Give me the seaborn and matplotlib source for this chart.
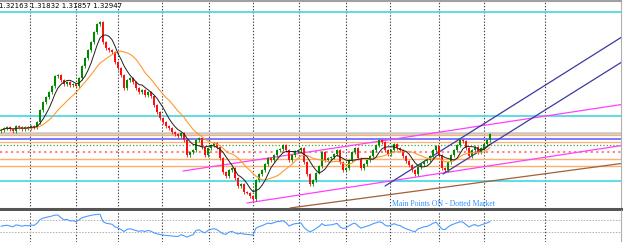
import numpy as np
import pandas as pd
import matplotlib
matplotlib.use("Agg")
import matplotlib.pyplot as plt
import seaborn as sns

# ---------------- data ----------------
closes = [
    1.3040, 1.3044, 1.3046, 1.3042, 1.3038, 1.3048, 1.3046, 1.3042, 1.3046, 1.3044,
    1.3048, 1.3046, 1.3056, 1.3080, 1.3096, 1.3106, 1.3116, 1.3128, 1.3148, 1.3150,
    1.3140, 1.3132, 1.3136, 1.3130, 1.3132, 1.3128, 1.3144, 1.3168, 1.3184, 1.3200,
    1.3216, 1.3236, 1.3252, 1.3256, 1.3216, 1.3204, 1.3200, 1.3196, 1.3176, 1.3164,
    1.3150, 1.3124, 1.3140, 1.3144, 1.3136, 1.3124, 1.3116, 1.3120, 1.3110, 1.3116,
    1.3108, 1.3090, 1.3076, 1.3064, 1.3056, 1.3048, 1.3044, 1.3036, 1.3032, 1.3028,
    1.3034, 1.3020, 1.2990, 1.2996, 1.3000, 1.3020, 1.3024, 1.3006, 1.2990, 1.3004,
    1.3010, 1.3014, 1.3006, 1.2984, 1.2956, 1.2948, 1.2960, 1.2964, 1.2944, 1.2928,
    1.2932, 1.2916, 1.2914, 1.2908, 1.2902, 1.2940, 1.2952, 1.2960, 1.2972, 1.2984,
    1.2980, 1.2990, 1.3000, 1.3002, 1.3010, 1.3000, 1.2980, 1.2990, 1.2998, 1.3000,
    1.3004, 1.2976, 1.2952, 1.2932, 1.2940, 1.2954, 1.2968, 1.2996, 1.2980, 1.2984,
    1.2986, 1.2992, 1.3000, 1.2976, 1.2960, 1.2964, 1.2980, 1.2996, 1.3004, 1.2984,
    1.2964, 1.2972, 1.2980, 1.2988, 1.3000, 1.3010, 1.3020, 1.3016, 1.3000, 1.2992,
    1.3000, 1.3012, 1.3004, 1.3000, 1.2988, 1.2978, 1.2970, 1.2960, 1.2952, 1.2966,
    1.2972, 1.2978, 1.2980, 1.2988, 1.3000, 1.3008, 1.2990, 1.2964, 1.2960, 1.2976,
    1.2990, 1.3000, 1.3010, 1.3020, 1.3018, 1.3004, 1.2988, 1.3000, 1.3006, 1.2996,
    1.3004, 1.3012, 1.3020, 1.3032,
]
first_open = 1.3038
rsi_seed = 0.0005  # neutral average move assumed before the first bar

# horizontal levels (price, colour, width, style)
level_prices = [1.3276, 1.3068, 1.2938, 1.3035, 1.3030, 1.3022, 1.3016, 1.3011, 1.2996, 1.2982, 1.2968]
level_colors = ["#40d8e0", "#40d8e0", "#40d8e0", "#c8c8c8", "#ffb070", "#7070ff",
                "#ffb070", "#40a040", "#ff8080", "#ffb070", "#ffb070"]
level_widths = [1.2, 1.2, 1.2, 1.8, 0.9, 1.3, 0.9, 0.9, 1.5, 1.0, 1.0]
level_styles = ["-", "-", "-", "-", "-", "-", "-", ":", ":", "-", "-"]

# trend lines: (x0, y0, x1, y1) in bar index / price
trend_x0 = [60.67, 82.0, 96.33, 128.0, 147.33]
trend_y0 = [1.2958, 1.2894, 1.2884, 1.2928, 1.2952]
trend_x1 = [208.0, 208.0, 208.0, 208.0, 208.0]
trend_y1 = [1.3092, 1.3010, 1.2974, 1.3230, 1.3180]
trend_colors = ["#ff40ff", "#ff40ff", "#a0603a", "#3a3aa0", "#3a3aa0"]

# day separators (bar positions)
separators = [9.7, 25, 39, 53.7, 69.3, 84, 99.3, 115, 129.7, 146, 161, 181.3]

header = "1.32163 1.31832 1.31857 1.32947"
note = "Main Points ON - Dotted Market"

# ---------------- build ----------------
sns.set_style("white")
plt.rcParams["font.family"] = ["DejaVu Sans"]

c = np.array(closes)
o = np.concatenate([[first_open], c[:-1]])
idx = np.arange(len(c))
df = pd.DataFrame({"bar": idx, "open": o, "close": c})
df["ma_fast"] = df["close"].rolling(6, min_periods=1).mean()
df["ma_slow"] = df["close"].rolling(15, min_periods=1).mean()
delta = df["close"].diff().fillna(0)
gain = delta.clip(lower=0)
loss = -delta.clip(upper=0)
gain.iloc[0] = rsi_seed
loss.iloc[0] = rsi_seed
ag = gain.ewm(alpha=1 / 10, adjust=False).mean()
al = loss.ewm(alpha=1 / 10, adjust=False).mean()
df["rsi"] = 100 * ag / (ag + al)

W, H = 625, 242
def rect(x0, y0, x1, y1):
    return [x0 / W, 1 - y1 / H, (x1 - x0) / W, (y1 - y0) / H]

fig = plt.figure(figsize=(W / 100, H / 100), dpi=100)
ax = fig.add_axes(rect(0, 1, 621, 209))
axr = fig.add_axes(rect(0, 210.5, 621, 242))

xlim = (-1 / 3, 620 / 3)
ax.set_xlim(*xlim)
ax.set_ylim(1.2882, 1.3298)
axr.set_xlim(*xlim)
axr.set_ylim(-3.3, 103.3)

for a in (ax, axr):
    a.set_xticks([])
    a.set_yticks([])
    a.set_facecolor("white")
    for s in a.spines.values():
        s.set_visible(False)
    for sx in separators:
        a.axvline(sx, color="#404040", lw=0.8, ls=(0, (1.2, 1.6)), zorder=1)

ax.spines["top"].set_visible(True)
ax.spines["top"].set_color("#a0a0a0")
ax.spines["top"].set_linewidth(1.5)
ax.spines["right"].set_visible(True)
ax.spines["right"].set_color("#b0b0b0")
ax.spines["bottom"].set_visible(True)
ax.spines["bottom"].set_color("#555555")
ax.spines["bottom"].set_linewidth(2.2)
axr.spines["right"].set_visible(True)
axr.spines["right"].set_color("#b0b0b0")

# levels
for p, col, lw, ls in zip(level_prices, level_colors, level_widths, level_styles):
    ax.axhline(p, color=col, lw=lw, ls=ls, zorder=2)

# trend lines
for x0, y0, x1, y1, col in zip(trend_x0, trend_y0, trend_x1, trend_y1, trend_colors):
    ax.plot([x0, x1], [y0, y1], color=col, lw=0.9, zorder=3)

# candles
up = df["close"] >= df["open"]
cols = np.where(up, "#008a00", "#ff1010")
lo = np.minimum(df["open"], df["close"])
hi = np.maximum(df["open"], df["close"])
ax.vlines(df["bar"], lo - 0.0003, hi + 0.0003, colors=cols, lw=0.6, zorder=4)
ax.bar(df["bar"], np.maximum(hi - lo, 0.00012), bottom=lo, width=0.72,
       color=cols, linewidth=0, zorder=5)

# moving averages
sns.lineplot(data=df, x="bar", y="ma_slow", ax=ax, color="#ff9a30", lw=0.8, zorder=6)
sns.lineplot(data=df, x="bar", y="ma_fast", ax=ax, color="#202020", lw=0.7, zorder=6)
ax.set_xlabel("")
ax.set_ylabel("")

# RSI panel
axr.axhline(70, color="#b0b0b0", lw=0.7, ls=(0, (1.5, 1.5)))
axr.axhline(30, color="#b0b0b0", lw=0.7, ls=(0, (1.5, 1.5)))
sns.lineplot(data=df, x="bar", y="rsi", ax=axr, color="#4a9cff", lw=0.8, zorder=5)
axr.set_xlabel("")
axr.set_ylabel("")

# texts
fig.text(-1 / W, 1 - 6.5 / H, header, fontsize=5, color="black", va="center", ha="left")
fig.text(392 / W, 1 - 203.5 / H, note, fontsize=5.6, color="#2f8fff", va="center",
         ha="left", family=["Liberation Serif", "DejaVu Serif"])

fig.savefig("out.png", dpi=100)
